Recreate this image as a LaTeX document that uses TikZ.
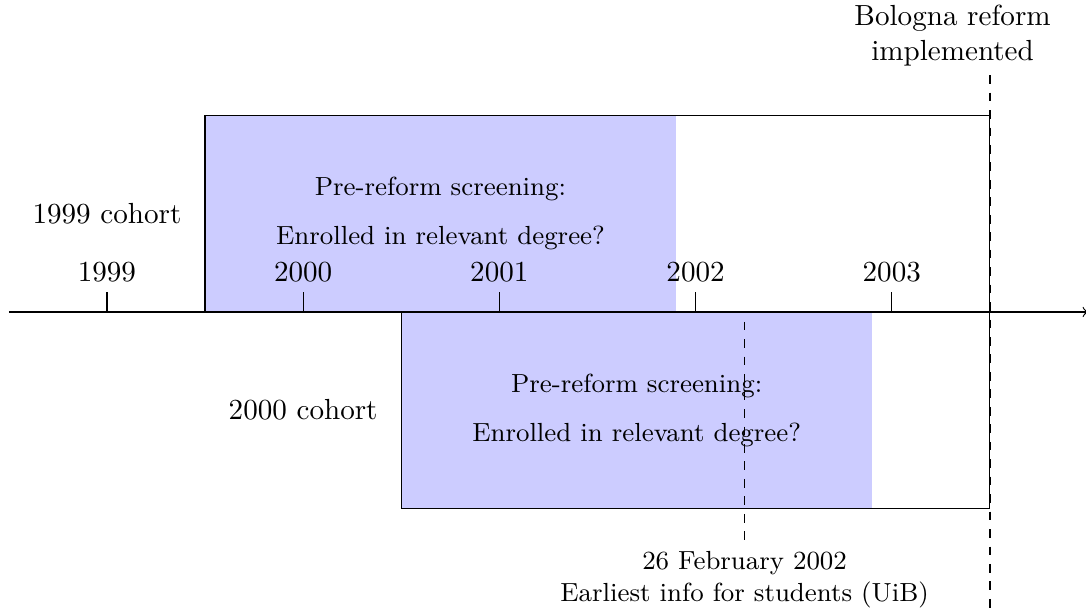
\documentclass[tikz,border=0pt]{standalone}
\usepackage{tikz}
\usetikzlibrary{calc,positioning}

\begin{document}
\begin{tikzpicture}[x=2.37cm, y=2.37cm]
		%%%%% START %%%%%
		\useasboundingbox (-0.545, -1.535) rectangle (4.99, 1.59);
		
		\fill[blue!20] (0.5, 0) rectangle (2.9, 1);
		\fill[blue!20] (1.5, 0) rectangle (3.9, -1);
		\draw (0.5, 0) rectangle (4.5, 1);
		\draw (1.5, 0) rectangle (4.5, -1);
		
		\draw[->] (-0.5, 0) -- (5, 0);
		\foreach \yr [count=\i from 0] in {1999,...,2003}
			\draw (\i, 0) -- (\i, 0.1) node[above] (y\yr) {\yr};
		
		\node (c1999) at (0, 0.5) {1999 cohort};
		\node (c2000) at (1, -0.5) {2000 cohort};
		\node[align=center, font=\small] (s1999) at (1.7, 0.5) {Pre-reform screening:\\[5.8pt]Enrolled in relevant degree?};
		\node[align=center, font=\small] (s2000) at (2.7, -0.5) {Pre-reform screening:\\[5.8pt]Enrolled in relevant degree?};
		
		\node[align=center] (bologna) at (4.31, 1.41) {Bologna reform\\implemented};
		\coordinate (btop) at (4.5, 1.207);
		\coordinate (bbot) at (4.5, -1.535);
		\draw[thick, dashed] (btop) -- (bbot);
		
		\node[align=center, font=\small] (info) at (3.25, -1.366) {26 February 2002\\Earliest info for students (UiB)};
		\coordinate (itop) at (3.25, -0.05);
		\draw[dashed] (itop) -- (info.north);
		
		%%%%% END %%%%%
\end{tikzpicture}
\end{document}
